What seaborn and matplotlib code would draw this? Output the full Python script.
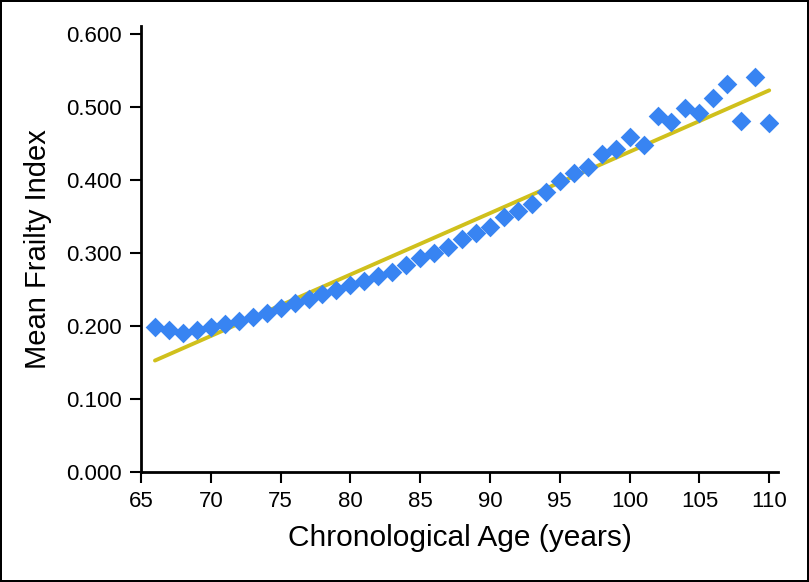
import numpy as np
import pandas as pd
import matplotlib
matplotlib.use('Agg')
import matplotlib.pyplot as plt
from matplotlib import font_manager
import seaborn as sns

idade = [66, 67, 68, 69, 70, 71, 72, 73, 74, 75, 76, 77, 78, 79, 80,
         81, 82, 83, 84, 85, 86, 87, 88, 89, 90, 91, 92, 93, 94, 95,
         96, 97, 98, 99, 100, 101, 102, 103, 104, 105, 106, 107, 108, 109, 110]
fragilidade = [0.199, 0.195, 0.191, 0.194, 0.198, 0.203, 0.207, 0.212, 0.218, 0.224,
               0.231, 0.237, 0.244, 0.250, 0.256, 0.262, 0.268, 0.274, 0.284, 0.293,
               0.300, 0.308, 0.319, 0.328, 0.336, 0.349, 0.357, 0.367, 0.384, 0.398,
               0.409, 0.418, 0.436, 0.442, 0.459, 0.448, 0.488, 0.480, 0.498, 0.492,
               0.512, 0.531, 0.481, 0.541, 0.478]
yticks = [0.0, 0.1, 0.2, 0.3, 0.4, 0.5, 0.6]
xticks = [65, 70, 75, 80, 85, 90, 95, 100, 105, 110]

df = pd.DataFrame({'Idade': idade, 'Fragilidade': fragilidade})

sns.set_style('ticks')
plt.rcParams['font.family'] = ['Liberation Sans', 'DejaVu Sans']

# fonte estreita se existir, senao Liberation Sans menor
nomes = {f.name for f in font_manager.fontManager.ttflist}
if 'Liberation Sans Narrow' in nomes:
    estreita, tam_xt, tam_xl = 'Liberation Sans Narrow', 17, 25
else:
    estreita, tam_xt, tam_xl = 'Liberation Sans', 16, 21.5

fig = plt.figure(figsize=(8.09, 5.82), dpi=100, facecolor='white', edgecolor='black', linewidth=1.5)
ax = fig.add_axes([141/809, 110/582, 637/809, 446/582])

# linha de tendencia (regressao linear)
sns.regplot(data=df, x='Idade', y='Fragilidade', scatter=False, ci=None, truncate=True,
            line_kws=dict(color='#d0c01c', linewidth=2.8), ax=ax)
sns.scatterplot(data=df, x='Idade', y='Fragilidade', marker='D', s=100, color='#3884f2',
                linewidth=0, ax=ax, zorder=3)

ax.set_xlim(65, 110.63)
ax.set_ylim(0, 0.611)
ax.set_xticks(xticks)
ax.set_xticklabels([str(t) for t in xticks], family=estreita, fontsize=tam_xt)
ax.set_yticks(yticks)
ax.set_yticklabels(['%.3f' % t for t in yticks], fontsize=16)
ax.tick_params(axis='both', direction='out', length=8, width=1.5, color='black', labelcolor='black')
ax.tick_params(axis='x', pad=6)
ax.tick_params(axis='y', pad=6)

for lado in ['top', 'right']:
    ax.spines[lado].set_visible(False)
for lado in ['left', 'bottom']:
    ax.spines[lado].set_linewidth(2)
    ax.spines[lado].set_color('black')

ax.set_xlabel('Chronological Age (years)', family=estreita, fontsize=tam_xl, color='black', labelpad=8)
ax.set_ylabel('Mean Frailty Index', fontsize=21, color='black', labelpad=10)

plt.savefig('out.png', dpi=100)
